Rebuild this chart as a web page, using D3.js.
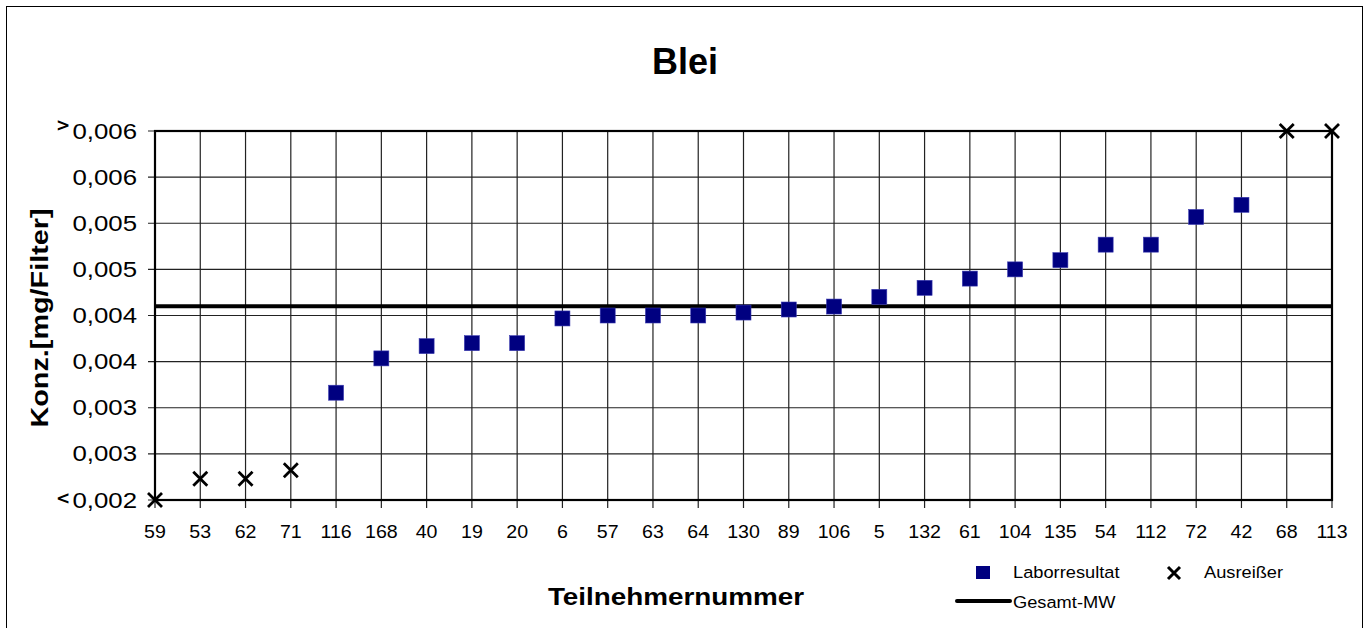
<!DOCTYPE html>
<html><head><meta charset="utf-8">
<script src="https://cdn.jsdelivr.net/npm/d3@7"></script>
<style>body{margin:0;background:#fff;} text{font-family:"Liberation Sans",Arial,sans-serif;} text.cmp{font-family:"DejaVu Sans",sans-serif;}</style>
</head><body><svg id="c" width="1372" height="628"></svg>
<script>
const categories = ["59","53","62","71","116","168","40","19","20","6","57","63","64","130","89","106","5","132","61","104","135","54","112","72","42","68","113"];
const labValues = [null,null,null,null,0.003163,0.003535,0.003668,0.0037,0.0037,0.003968,0.004,0.004,0.004,0.004032,0.004065,0.004097,0.004202,0.0043,0.0044,0.0045,0.0046,0.004768,0.004768,0.005068,0.0052,null,null];
const outlierValues = [0.002,0.00223,0.00223,0.002322,null,null,null,null,null,null,null,null,null,null,null,null,null,null,null,null,null,null,null,null,null,0.006,0.006];
const meanValue = 0.0041;
const yTicks = [0.002,0.0025,0.003,0.0035,0.004,0.0045,0.005,0.0055,0.006];
const yTickLabels = ["0,002","0,003","0,003","0,004","0,004","0,005","0,005","0,006","0,006"];

const svg = d3.select("#c");
const L=155, R=1332, T=131, B=500;
const x = d3.scalePoint().domain(categories).range([L,R]).padding(0);
const y = d3.scaleLinear().domain([0.002,0.006]).range([B,T]);

function stxt(parent, px, py, str, size, sx, anchor, bold, rot) {
  return parent.append("text")
    .attr("transform", `translate(${px},${py})${rot?` rotate(${rot})`:""} scale(${sx},1)`)
    .attr("text-anchor", anchor || "start")
    .attr("font-size", size)
    .attr("font-weight", bold ? "bold" : "normal")
    .text(str);
}

// outer frame
svg.append("rect").attr("x",6.5).attr("y",6.5).attr("width",1356).attr("height",640)
  .attr("fill","none").attr("stroke","#000").attr("stroke-width",1);

// gridlines
const g = svg.append("g");
g.selectAll(".vg").data(categories).join("line")
  .attr("x1",d=>x(d)).attr("x2",d=>x(d)).attr("y1",T).attr("y2",B+8)
  .attr("stroke","#222").attr("stroke-width",1.2);
g.selectAll(".hg").data(yTicks).join("line")
  .attr("x1",L-7).attr("x2",R).attr("y1",d=>y(d)).attr("y2",d=>y(d))
  .attr("stroke","#222").attr("stroke-width",1.2);

// plot border
svg.append("rect").attr("x",L).attr("y",T).attr("width",R-L).attr("height",B-T)
  .attr("fill","none").attr("stroke","#000").attr("stroke-width",2.2);

// y tick labels
yTicks.forEach((d,i)=>stxt(svg,137,y(d)+7.5,yTickLabels[i],21.5,1.2,"end"));
stxt(svg,56,131,">",17,1.0,"start",true).attr("class","cmp");
stxt(svg,56,504,"<",17,1.0,"start",true).attr("class","cmp");

// x tick labels
categories.forEach(d=>stxt(svg,x(d),538,d,18.5,1.06,"middle"));

// mean line
svg.append("line").attr("x1",L).attr("x2",R).attr("y1",y(meanValue)).attr("y2",y(meanValue))
  .attr("stroke","#000").attr("stroke-width",4);

// lab points
const lab = categories.map((c,i)=>({c,v:labValues[i]})).filter(d=>d.v!==null);
svg.selectAll(".sq").data(lab).join("rect")
  .attr("x",d=>x(d.c)-7.5).attr("y",d=>y(d.v)-7.5).attr("width",15).attr("height",15)
  .attr("fill","#000080").attr("stroke","#3a3ab0").attr("stroke-width",0.6);

// outliers
const cross = (sel,s,w)=>sel.append("path").attr("d",`M${-s},${-s}L${s},${s}M${-s},${s}L${s},${-s}`)
  .attr("stroke","#000").attr("stroke-width",w).attr("fill","none");
const out = categories.map((c,i)=>({c,v:outlierValues[i]})).filter(d=>d.v!==null);
svg.selectAll(".ox").data(out).join("g")
  .attr("transform",d=>`translate(${x(d.c)},${y(d.v)})`)
  .each(function(){cross(d3.select(this),7,2.8);});

// title & axis labels
stxt(svg,685,74,"Blei",36,1.0,"middle",true);
stxt(svg,676,605,"Teilnehmernummer",24,1.16,"middle",true);
stxt(svg,48,318,"Konz.[mg/Filter]",24,1.2,"middle",true,-90);

// legend
svg.append("rect").attr("x",976).attr("y",566).attr("width",14).attr("height",13).attr("fill","#000080");
stxt(svg,1013,578,"Laborresultat",16.3,1.12,"start");
const lx = svg.append("g").attr("transform","translate(1174,573)");
cross(lx,6,3);
stxt(svg,1204,578,"Ausreißer",16.3,1.12,"start");
svg.append("line").attr("x1",957).attr("x2",1010).attr("y1",601).attr("y2",601).attr("stroke","#000").attr("stroke-width",4).attr("stroke-linecap","round");
stxt(svg,1013,608,"Gesamt-MW",16.3,1.12,"start");
</script></body></html>
